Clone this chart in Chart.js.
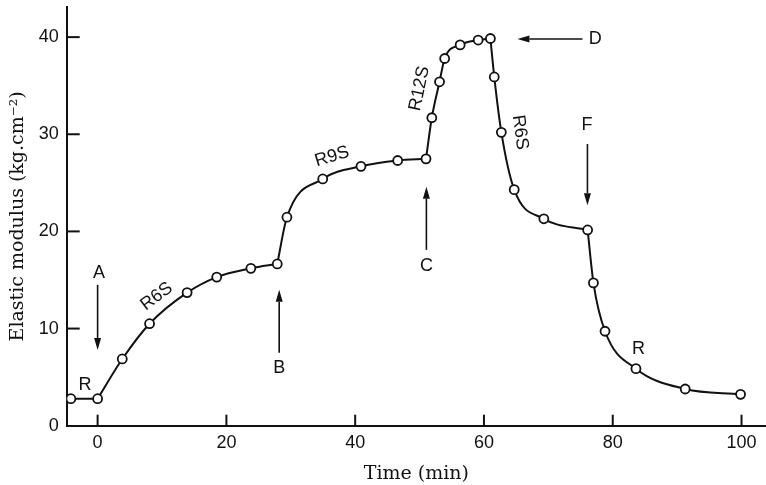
<!DOCTYPE html>
<html>
<head>
<meta charset="utf-8">
<script src="https://cdn.jsdelivr.net/npm/chart.js@4"></script>
<style>
  html, body { margin: 0; padding: 0; background: #fff; }
  #wrap { width: 766px; height: 485px; }
</style>
</head>
<body>
<div id="wrap"><canvas id="chart" width="766" height="485"></canvas></div>
<script>
// readings: time (min) and elastic modulus (kg.cm-2)
const timeMin = [-4.15, 0, 3.83, 8.07, 13.9, 18.5, 23.8, 27.9, 29.4, 34.96, 40.9, 46.6, 51.0,
  51.9, 53.1, 53.9, 56.3, 59.1, 61.0, 61.6, 62.7, 64.7, 69.3, 76.1, 77.0, 78.8, 83.6, 91.25, 99.85];
const modulus = [2.78, 2.78, 6.87, 10.5, 13.7, 15.3, 16.2, 16.65, 21.46, 25.4, 26.7, 27.3, 27.47,
  31.7, 35.4, 37.8, 39.2, 39.7, 39.86, 35.9, 30.2, 24.3, 21.3, 20.15, 14.7, 9.72, 5.87, 3.78, 3.23];
// index of the last point of each phase (the curve has a corner there)
const phaseEnds = [1, 7, 12, 18, 23, 28];
const xTickValues = [0, 20, 40, 60, 80, 100];
const yTickValues = [0, 10, 20, 30, 40];

// arrows (data units), tip at (x2, y2)
const arrowNotes = [
  { x1: 0, y1: 14.5, x2: 0, y2: 7.8 },
  { x1: 28.2, y1: 7.5, x2: 28.2, y2: 14.0 },
  { x1: 51.06, y1: 18.1, x2: 51.06, y2: 24.6 },
  { x1: 75.3, y1: 39.8, x2: 65.2, y2: 39.8 },
  { x1: 76.07, y1: 29.0, x2: 76.07, y2: 22.7 },
];
const textNotes = [
  { text: 'A', x: 0.2, y: 15.7, angle: 0 },
  { text: 'R', x: -1.96, y: 4.2, angle: 0 },
  { text: 'R6S', x: 9.17, y: 13.3, angle: -37 },
  { text: 'B', x: 28.2, y: 5.9, angle: 0 },
  { text: 'R9S', x: 36.4, y: 27.7, angle: -17 },
  { text: 'C', x: 51.06, y: 16.4, angle: 0 },
  { text: 'R12S', x: 50.0, y: 34.7, angle: -78 },
  { text: 'D', x: 77.3, y: 39.8, angle: 0 },
  { text: 'R6S', x: 65.6, y: 30.2, angle: 82 },
  { text: 'F', x: 76.0, y: 30.9, angle: 0 },
  { text: 'R', x: 84.0, y: 7.9, angle: 0 },
];

const INK = '#111';
const SANS = '"Liberation Sans", Arial, sans-serif';
const SERIF = '"DejaVu Serif", serif';

const points = timeMin.map((t, i) => ({ x: t, y: modulus[i] }));
const segments = [];
let start = 0;
phaseEnds.forEach((end) => {
  segments.push(points.slice(start, end + 1));
  start = end;
});

// no automatic room for edge labels: the plot box is fixed
function noEdgePadding(s) {
  s.paddingTop = 0;
  s.paddingBottom = 0;
  s.paddingLeft = 0;
  s.paddingRight = 0;
}

const innerTicks = {
  id: 'innerTicks',
  afterDraw(chart) {
    const { ctx, chartArea: a, scales } = chart;
    ctx.save();
    ctx.strokeStyle = INK;
    ctx.lineWidth = 2;
    xTickValues.forEach((v) => {
      const px = scales.x.getPixelForValue(v);
      ctx.beginPath();
      ctx.moveTo(px, a.bottom);
      ctx.lineTo(px, a.bottom - 11);
      ctx.stroke();
    });
    yTickValues.filter((v) => v > 0).forEach((v) => {
      const py = scales.y.getPixelForValue(v);
      ctx.beginPath();
      ctx.moveTo(a.left, py);
      ctx.lineTo(a.left + 13, py);
      ctx.stroke();
    });
    ctx.restore();
  },
};

const notes = {
  id: 'notes',
  afterDatasetsDraw(chart) {
    const { ctx, scales } = chart;
    const px = (v) => scales.x.getPixelForValue(v);
    const py = (v) => scales.y.getPixelForValue(v);
    ctx.save();
    ctx.strokeStyle = INK;
    ctx.fillStyle = INK;
    ctx.lineWidth = 1.6;
    arrowNotes.forEach((n) => {
      const x1 = px(n.x1), y1 = py(n.y1), x2 = px(n.x2), y2 = py(n.y2);
      const ang = Math.atan2(y2 - y1, x2 - x1);
      const len = 12, half = 3.5;
      const bx = x2 - len * Math.cos(ang), by = y2 - len * Math.sin(ang);
      ctx.beginPath();
      ctx.moveTo(x1, y1);
      ctx.lineTo(bx, by);
      ctx.stroke();
      ctx.beginPath();
      ctx.moveTo(x2, y2);
      ctx.lineTo(bx + half * Math.sin(ang), by - half * Math.cos(ang));
      ctx.lineTo(bx - half * Math.sin(ang), by + half * Math.cos(ang));
      ctx.closePath();
      ctx.fill();
    });
    ctx.font = '18px ' + SANS;
    ctx.textAlign = 'center';
    ctx.textBaseline = 'middle';
    textNotes.forEach((n) => {
      ctx.save();
      ctx.translate(px(n.x), py(n.y));
      ctx.rotate((n.angle * Math.PI) / 180);
      ctx.fillText(n.text, 0, 0);
      ctx.restore();
    });
    ctx.restore();
  },
};

const datasets = [
  {
    data: points,
    showLine: false,
    pointRadius: 4.5,
    pointBorderWidth: 1.8,
    pointBackgroundColor: '#fff',
    pointBorderColor: INK,
  },
  ...segments.map((seg) => ({
    data: seg,
    borderColor: INK,
    borderWidth: 2,
    pointRadius: 0,
    cubicInterpolationMode: 'monotone',
    fill: false,
  })),
];

new Chart(document.getElementById('chart'), {
  type: 'line',
  data: { datasets },
  options: {
    responsive: false,
    animation: false,
    layout: { autoPadding: false, padding: { top: 7, right: 0, left: 0, bottom: 0 } },
    plugins: { legend: { display: false }, tooltip: { enabled: false } },
    scales: {
      x: {
        type: 'linear',
        min: -4.8,
        max: 103.8,
        grid: { display: false, drawTicks: false },
        border: { display: true, color: INK, width: 2 },
        ticks: { font: { family: SANS, size: 18 }, color: INK, padding: 7, maxRotation: 0, autoSkip: false },
        afterBuildTicks: (s) => { s.ticks = xTickValues.map((v) => ({ value: v })); },
        afterFit: (s) => { s.height = 59.3; noEdgePadding(s); },
        title: { display: true, text: 'Time (min)', font: { family: SERIF, size: 19 }, color: INK, padding: { top: 0, bottom: 0 } },
      },
      y: {
        type: 'linear',
        min: 0,
        max: 43.1,
        grid: { display: false, drawTicks: false },
        border: { display: true, color: INK, width: 2 },
        ticks: { font: { family: SANS, size: 18 }, color: INK, padding: 8 },
        afterBuildTicks: (s) => { s.ticks = yTickValues.map((v) => ({ value: v })); },
        afterFit: (s) => { s.width = 66.7; noEdgePadding(s); },
        title: { display: true, text: 'Elastic modulus (kg.cm⁻²)', font: { family: SERIF, size: 19 }, color: INK, padding: { top: 7, bottom: 0 } },
      },
    },
  },
  plugins: [innerTicks, notes],
});
</script>
</body>
</html>
